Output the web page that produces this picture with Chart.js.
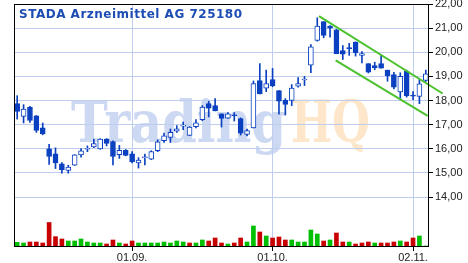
<html>

<head>
    <script src="https://cdn.jsdelivr.net/npm/chart.js"></script>
    <style>
        html, body { margin: 0; padding: 0; background: #fff; }
        #chart-container { width: 468px; height: 263px; }
    </style>
</head>

<body>
    <div id="chart-container">
        <canvas id="stock-chart"></canvas>
    </div>

    <script>
        // trading days 06.08. - 04.11.
        const dates = [
            '06.08.', '07.08.', '10.08.', '11.08.', '12.08.', '13.08.', '14.08.', '17.08.', '18.08.', '19.08.',
            '20.08.', '21.08.', '24.08.', '25.08.', '26.08.', '27.08.', '28.08.', '31.08.',
            '01.09.', '02.09.', '03.09.', '04.09.', '07.09.', '08.09.', '09.09.', '10.09.', '11.09.', '14.09.',
            '15.09.', '16.09.', '17.09.', '18.09.', '21.09.', '22.09.', '23.09.', '24.09.', '25.09.', '28.09.',
            '29.09.', '30.09.',
            '01.10.', '02.10.', '05.10.', '06.10.', '07.10.', '08.10.', '09.10.', '12.10.', '13.10.', '14.10.',
            '15.10.', '16.10.', '19.10.', '20.10.', '21.10.', '22.10.', '23.10.', '26.10.', '27.10.', '28.10.',
            '29.10.', '30.10.',
            '02.11.', '03.11.', '04.11.'
        ];
        const opens = [
            17.87, 17.34, 17.72, 17.37, 16.87, 16.00, 15.79, 15.38, 15.10, 15.32,
            15.75, 15.98, 16.08, 15.99, 16.40, 16.30, 15.76, 15.94, 15.79, 15.41,
            15.63, 15.57, 15.92, 16.34, 16.47, 16.73, 16.94, 16.55, 16.92, 17.21,
            17.87, 17.79, 17.45, 17.27, 17.39, 17.25, 16.60, 16.86, 18.83, 18.51,
            18.87, 18.41, 18.01, 18.00, 18.59, 18.85, 19.46, 20.49, 21.27, 21.09,
            20.93, 20.07, 20.19, 20.42, 19.87, 19.53, 19.45, 19.53, 19.26, 19.08,
            18.36, 19.21, 18.20, 18.17, 18.83
        ];
        const highs = [
            18.20, 17.83, 17.76, 17.38, 17.07, 16.18, 16.04, 15.43, 15.32, 15.76,
            16.01, 16.12, 16.40, 16.42, 16.42, 16.33, 16.14, 15.97, 15.88, 15.63,
            15.78, 15.92, 16.37, 16.65, 16.82, 16.96, 17.11, 16.92, 17.21, 17.79,
            17.97, 18.08, 17.45, 17.50, 17.50, 17.28, 16.82, 18.81, 19.53, 19.26,
            19.33, 18.41, 18.08, 18.66, 18.95, 19.00, 20.32, 21.43, 21.27, 21.11,
            20.95, 20.28, 20.37, 20.43, 20.03, 19.53, 19.59, 19.87, 19.26, 19.17,
            19.15, 19.26, 18.37, 18.87, 19.26
        ];
        const lows = [
            17.23, 17.07, 17.09, 16.68, 16.58, 15.35, 15.18, 14.99, 14.99, 15.31,
            15.65, 15.88, 16.05, 15.98, 16.12, 15.33, 15.60, 15.71, 15.41, 15.20,
            15.33, 15.55, 15.88, 16.26, 16.26, 16.68, 16.79, 16.55, 16.86, 17.16,
            17.32, 17.57, 16.90, 17.26, 17.15, 16.57, 16.53, 16.86, 18.27, 18.37,
            18.57, 17.43, 17.40, 17.79, 18.55, 18.62, 19.15, 20.46, 20.60, 20.63,
            19.94, 19.70, 19.87, 19.84, 19.56, 19.14, 19.28, 19.34, 18.80, 18.48,
            18.08, 18.14, 18.04, 17.87, 18.79
        ];
        const closes = [
            17.55, 17.65, 17.18, 16.76, 16.62, 15.68, 15.41, 15.13, 15.24, 15.75,
            15.92, 16.02, 16.22, 16.40, 16.22, 15.68, 15.94, 15.73, 15.47, 15.53,
            15.66, 15.88, 16.29, 16.54, 16.68, 16.83, 16.97, 16.90, 17.08, 17.73,
            17.68, 17.57, 17.26, 17.45, 17.37, 16.65, 16.75, 18.70, 18.27, 18.70,
            18.61, 17.97, 17.84, 18.52, 18.70, 18.87, 20.23, 21.09, 20.70, 21.00,
            19.94, 19.92, 20.15, 19.98, 19.95, 19.17, 19.36, 19.34, 19.03, 18.55,
            19.00, 18.20, 18.18, 18.69, 19.11
        ];
        // volume in 1000 shares
        const volumes = [
            140, 120, 150, 150, 120, 735, 310, 240, 180, 180,
            240, 150, 120, 120, 90, 210, 120, 90, 180, 120,
            120, 120, 120, 150, 120, 180, 150, 120, 120, 210,
            180, 270, 120, 90, 120, 270, 150, 630, 450, 330,
            270, 300, 210, 210, 150, 150, 510, 390, 180, 210,
            420, 150, 150, 90, 120, 150, 120, 120, 120, 150,
            180, 150, 270, 330, 30
        ];
        const dateTicks = ['01.09.', '01.10.', '02.11.'];
        const priceTicks = [14, 15, 16, 17, 18, 19, 20, 21, 22];
        // trend channel, x = trading day index
        const channelTop = [{ x: 47.27, y: 21.50 }, { x: 66.64, y: 18.29 }];
        const channelBottom = [{ x: 49.88, y: 19.66 }, { x: 64.29, y: 17.36 }];

        const BLUE = '#0b41c0';
        const GRID = '#bfcdef';
        const GREEN = '#4cc22e';
        const NONE = 'rgba(0,0,0,0)';
        const LABEL_FONT = { family: 'Liberation Sans', size: 11 };

        const isDateTick = (i) => dateTicks.includes(dates[i]);

        const frame = {
            id: 'frame',
            beforeDraw(chart) {
                const ctx = chart.ctx;
                ctx.save();
                ctx.fillStyle = '#fff';
                ctx.fillRect(0, 0, chart.width, chart.height);
                ctx.font = 'bold 57px "DejaVu Serif"';
                ctx.textBaseline = 'alphabetic';
                const w1 = ctx.measureText('Trading').width;
                ctx.save();
                ctx.translate(71, 142);
                ctx.scale(215 / w1, 1);
                ctx.fillStyle = '#cdd8f2';
                ctx.fillText('Trading', 0, 0);
                ctx.restore();
                const w2 = ctx.measureText('HQ').width;
                ctx.translate(291, 142);
                ctx.scale(79 / w2, 1);
                ctx.fillStyle = '#fde6c9';
                ctx.fillText('HQ', 0, 0);
                ctx.restore();
            },
            afterDraw(chart) {
                const { ctx, chartArea: a } = chart;
                ctx.save();
                ctx.strokeStyle = '#000';
                ctx.lineWidth = 1;
                ctx.strokeRect(a.left + 0.5, a.top + 0.5, a.right - a.left - 1, a.bottom - a.top - 1);
                ctx.font = 'bold 12px "DejaVu Sans"';
                ctx.letterSpacing = '0.5px';
                ctx.fillStyle = '#1d4db4';
                ctx.textBaseline = 'alphabetic';
                ctx.fillText('STADA Arzneimittel AG 725180', 19, 18);
                ctx.restore();
            }
        };

        const ctx = document.getElementById('stock-chart').getContext('2d');
        const chart = new Chart(ctx, {
            type: 'bar',
            data: {
                labels: dates,
                datasets: [
                    {
                        type: 'line', data: channelTop, xAxisID: 'x2', yAxisID: 'y',
                        borderColor: GREEN, borderWidth: 2, pointRadius: 0, clip: false, order: 0
                    },
                    {
                        type: 'line', data: channelBottom, xAxisID: 'x2', yAxisID: 'y',
                        borderColor: GREEN, borderWidth: 2, pointRadius: 0, clip: false, order: 0
                    },
                    {
                        data: opens.map((o, i) => [o, closes[i]]),
                        backgroundColor: (c) => closes[c.dataIndex] < opens[c.dataIndex] ? BLUE : '#fff',
                        borderColor: BLUE, borderWidth: 1, borderSkipped: false,
                        barThickness: 5, minBarLength: 1, grouped: false, order: 1
                    },
                    {
                        data: lows.map((l, i) => [l, highs[i]]),
                        backgroundColor: BLUE, barThickness: 1, grouped: false, order: 2
                    },
                    {
                        data: volumes, yAxisID: 'yv',
                        backgroundColor: (c) => {
                            const i = c.dataIndex;
                            return i === 0 || closes[i] >= closes[i - 1] ? '#00bf00' : '#c80000';
                        },
                        barThickness: 4, grouped: false, order: 3
                    }
                ]
            },
            options: {
                responsive: true,
                maintainAspectRatio: false,
                animation: false,
                layout: { padding: { left: 14, top: 4, right: 0, bottom: 0 } },
                plugins: { legend: { display: false }, tooltip: { enabled: false } },
                scales: {
                    x: {
                        type: 'category',
                        offset: true,
                        grid: {
                            offset: false,
                            color: (c) => isDateTick(c.index) ? GRID : NONE,
                            tickColor: (c) => isDateTick(c.index) ? '#000' : NONE,
                            tickLength: 4
                        },
                        border: { display: false },
                        ticks: {
                            autoSkip: false, maxRotation: 0, minRotation: 0, padding: 0,
                            color: '#222', font: LABEL_FONT,
                            callback: (v, i) => isDateTick(i) ? dates[i] : ''
                        },
                        afterFit(s) { s.height = 16; s.paddingLeft = 0; s.paddingRight = 0; }
                    },
                    x2: {
                        type: 'linear', display: false, offset: false, bounds: 'data',
                        min: -0.5, max: 64.5, grid: { offset: false }
                    },
                    y: {
                        position: 'right',
                        min: 11.93,
                        max: 22,
                        afterBuildTicks(s) { s.ticks = priceTicks.map(v => ({ value: v })); },
                        grid: { color: GRID, tickColor: '#000', tickLength: 4 },
                        border: { display: false },
                        ticks: {
                            padding: 2, color: '#222', font: LABEL_FONT,
                            callback: (v) => v.toFixed(2).replace('.', ',')
                        },
                        afterFit(s) { s.width = 39; s.paddingTop = 0; s.paddingBottom = 0; }
                    },
                    yv: { display: false, min: 0, max: 7290 }
                }
            },
            plugins: [frame]
        });
    </script>
</body>

</html>
